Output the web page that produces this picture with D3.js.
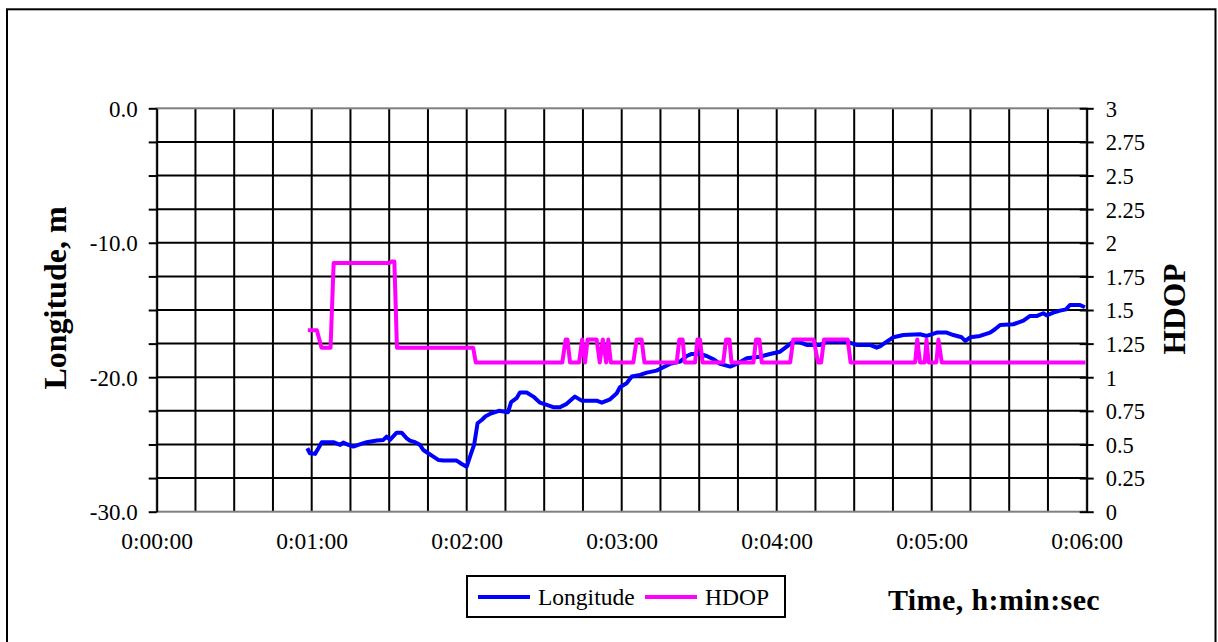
<!DOCTYPE html>
<html>
<head>
<meta charset="utf-8">
<script src="https://cdn.jsdelivr.net/npm/d3@7"></script>
<style>
  body { margin: 0; background: #fff; }
  text { font-family: "Liberation Serif", "Times New Roman", serif; fill: #000; }
</style>
</head>
<body>
<svg id="chart" width="1218" height="642"></svg>
<script>
// longitude track (time in seconds, value in m)
var lonTime = [58.3, 59.3, 61.3, 62.6, 63.9, 68.4, 71, 72.2, 74.2, 76.1, 78, 81.3, 85.2, 87.7, 89, 90.3, 92.9, 94.8, 96.8, 98,
  100, 101.9, 103.2, 105.1, 107.1, 109, 111, 116.1, 118.1, 120, 121.8, 122.9, 124.2, 125.8, 127.3, 129, 132.5, 136, 137.2, 139.3,
  140.6, 143.2, 145.8, 148.4, 151, 153.5, 156.1, 158.7, 161.9, 164.5, 170.3, 172.3, 175.5, 178.1, 179.3, 181.9, 183.9, 187.1, 189.7, 193.5,
  196.1, 198.7, 202.6, 205.2, 207.1, 210.3, 212.9, 215.5, 218.1, 222, 224.5, 228.4, 233.5, 237.4, 241.3, 243.9, 246.4, 249, 251.6, 256.8,
  259.4, 267.1, 271, 276.1, 278.7, 280, 282.6, 285.2, 289, 295.5, 298.1, 302, 305.8, 308.4, 311.6, 313, 314.9, 318.7, 322.6, 324.5,
  326.5, 331.6, 335.5, 338.1, 340.8, 343.2, 344.5, 347.1, 349.7, 352, 353.5, 357.4, 359.3];
var lonValue = [-25.28, -25.65, -25.7, -25.28, -24.83, -24.83, -25.03, -24.86, -25.03, -25.16, -25.03, -24.83, -24.71, -24.66, -24.42, -24.66, -24.12, -24.12, -24.54, -24.71,
  -24.83, -25.03, -25.41, -25.65, -25.9, -26.15, -26.2, -26.2, -26.45, -26.65, -25.6, -25.0, -23.42, -23.18, -22.9, -22.73, -22.5, -22.6, -21.85, -21.56,
  -21.14, -21.14, -21.44, -21.89, -22.06, -22.23, -22.23, -21.98, -21.44, -21.74, -21.74, -21.89, -21.64, -21.19, -20.74, -20.45, -19.95, -19.83, -19.66, -19.51,
  -19.26, -19.01, -18.84, -18.42, -18.27, -18.27, -18.42, -18.66, -19.01, -19.21, -19.01, -18.59, -18.47, -18.27, -18.1, -17.72, -17.35, -17.4, -17.6, -17.6,
  -17.35, -17.35, -17.6, -17.6, -17.8, -17.7, -17.35, -17.03, -16.86, -16.8, -16.93, -16.68, -16.68, -16.86, -17.03, -17.3, -17.03, -16.93, -16.68, -16.43,
  -16.11, -16.06, -15.79, -15.44, -15.44, -15.24, -15.4, -15.2, -15.05, -14.95, -14.63, -14.63, -14.8];

// HDOP track
var hdopTime = [58.5, 62, 63.8, 67.3, 68.5, 90, 91, 92, 93, 122.5, 123.5, 157, 158.3, 159, 160, 163.5, 164.7, 165.8, 166.8, 170.3,
  171.5, 172.7, 174, 174.8, 175.8, 184.5, 185.8, 187.7, 188.8, 201.3, 202.3, 203.6, 204.4, 208.4, 209.3, 210.3, 211.3, 219.3, 220.4, 221.7,
  222.5, 231, 232, 233.3, 234.2, 245.2, 246.4, 254.3, 256, 257.2, 258.3, 267.5, 268.6, 293.6, 294.4, 295.5, 297.3, 298, 298.8, 301.8,
  302.6, 303.9, 359.5];
var hdopValue = [1.35, 1.35, 1.22, 1.22, 1.85, 1.85, 1.86, 1.86, 1.22, 1.22, 1.11, 1.11, 1.28, 1.28, 1.11, 1.11, 1.28, 1.11, 1.28, 1.28,
  1.11, 1.28, 1.11, 1.28, 1.11, 1.11, 1.28, 1.28, 1.11, 1.11, 1.28, 1.28, 1.11, 1.11, 1.28, 1.28, 1.11, 1.11, 1.28, 1.28,
  1.11, 1.11, 1.28, 1.28, 1.11, 1.11, 1.28, 1.28, 1.11, 1.11, 1.28, 1.28, 1.11, 1.11, 1.28, 1.11, 1.11, 1.28, 1.11, 1.11,
  1.28, 1.11, 1.11];

// axes
var xTicks = [0, 60, 120, 180, 240, 300, 360];
var xGrid = d3.range(0, 361, 15);
var leftTicks = d3.range(-30, 0.1, 2.5);
var leftLabels = [-30, -20, -10, 0];
var rightTicks = d3.range(0, 3.01, 0.25);

var seriesNames = ["Longitude", "HDOP"];
var seriesColors = ["#0000ff", "#ff00ff"];

var svg = d3.select("#chart");
var margin = { top: 108.3, right: 131.3, bottom: 130.3, left: 156.7 };
var width = 1218, height = 642;

var x = d3.scaleLinear().domain([0, 360]).range([margin.left, width - margin.right]);
var y = d3.scaleLinear().domain([-30, 0]).range([height - margin.bottom, margin.top]);
var y2 = d3.scaleLinear().domain([0, 3]).range([height - margin.bottom, margin.top]);

var fmtTime = function (s) {
  var h = Math.floor(s / 3600), m = Math.floor(s / 60) % 60, sec = s % 60;
  return h + ":" + String(m).padStart(2, "0") + ":" + String(sec).padStart(2, "0");
};

// outer frame
svg.append("rect")
  .attr("x", 7).attr("y", 9.3)
  .attr("width", 1208.5).attr("height", 640)
  .attr("fill", "none").attr("stroke", "#000").attr("stroke-width", 2);

// grid
svg.append("g").selectAll("line")
  .data(leftTicks.filter(function (d) { return d > -30 && d < 0; }))
  .join("line")
  .attr("x1", x(0)).attr("x2", x(360))
  .attr("y1", function (d) { return y(d); }).attr("y2", function (d) { return y(d); })
  .attr("stroke", "#000").attr("stroke-width", 2);

svg.append("g").selectAll("line")
  .data(xGrid.filter(function (d) { return d > 0 && d < 360; }))
  .join("line")
  .attr("x1", function (d) { return x(d); }).attr("x2", function (d) { return x(d); })
  .attr("y1", y(0)).attr("y2", y(-30))
  .attr("stroke", "#000").attr("stroke-width", 2);

// plot frame top / bottom in grey
svg.append("rect")
  .attr("x", x(0)).attr("y", y(0))
  .attr("width", x(360) - x(0)).attr("height", y(-30) - y(0))
  .attr("fill", "none").attr("stroke", "#808080").attr("stroke-width", 2);

// left axis
var leftAxis = d3.axisLeft(y)
  .tickValues(leftTicks)
  .tickSize(8)
  .tickSizeOuter(0)
  .tickFormat(function (d) { return leftLabels.indexOf(d) >= 0 ? d.toFixed(1) : ""; });

var gl = svg.append("g")
  .attr("transform", "translate(" + x(0) + ",0)")
  .call(leftAxis);
gl.select(".domain").attr("stroke", "#000").attr("stroke-width", 2);
gl.selectAll(".tick line").attr("stroke", "#000").attr("stroke-width", 2);
gl.selectAll(".tick text")
  .attr("x", -19).attr("dy", "0.35em")
  .style("font-size", "23px").style("font-family", "Liberation Serif");

// right axis
var rightAxis = d3.axisRight(y2)
  .tickValues(rightTicks)
  .tickSize(7)
  .tickSizeOuter(0)
  .tickFormat(d3.format("~g"));

var gr = svg.append("g")
  .attr("transform", "translate(" + x(360) + ",0)")
  .call(rightAxis);
gr.select(".domain").attr("stroke", "#000").attr("stroke-width", 2);
gr.selectAll(".tick line").attr("x1", -7).attr("stroke", "#000").attr("stroke-width", 2);
gr.selectAll(".tick text")
  .attr("x", 19).attr("dy", "0.35em")
  .style("font-size", "22.5px").style("font-family", "Liberation Serif");

// bottom labels
var xAxis = d3.axisBottom(x)
  .tickValues(xTicks)
  .tickSize(0)
  .tickFormat(fmtTime);
var gx = svg.append("g")
  .attr("transform", "translate(0," + y(-30) + ")")
  .call(xAxis);
gx.select(".domain").remove();
gx.selectAll(".tick text")
  .attr("y", 29).attr("dy", "0.35em")
  .style("font-size", "23.5px").style("font-family", "Liberation Serif");

// series
var lonData = lonTime.map(function (t, i) { return [t, lonValue[i]]; });
var hdopData = hdopTime.map(function (t, i) { return [t, hdopValue[i]]; });

svg.append("path")
  .datum(lonData)
  .attr("fill", "none")
  .attr("stroke", seriesColors[0])
  .attr("stroke-width", 4)
  .attr("stroke-linejoin", "round")
  .attr("d", d3.line().x(function (d) { return x(d[0]); }).y(function (d) { return y(d[1]); }));

svg.append("path")
  .datum(hdopData)
  .attr("fill", "none")
  .attr("stroke", seriesColors[1])
  .attr("stroke-width", 4)
  .attr("stroke-linejoin", "round")
  .attr("d", d3.line().x(function (d) { return x(d[0]); }).y(function (d) { return y2(d[1]); }));

// axis titles
svg.append("text")
  .attr("transform", "translate(66,298) rotate(-90)")
  .attr("text-anchor", "middle")
  .style("font-size", "32px").style("font-weight", "bold")
  .text("Longitude, m");

svg.append("text")
  .attr("transform", "translate(1185,309) rotate(-90)")
  .attr("text-anchor", "middle")
  .style("font-size", "31.5px").style("font-weight", "bold")
  .text("HDOP");

svg.append("text")
  .attr("x", 888).attr("y", 610)
  .style("font-size", "30px").style("font-weight", "bold")
  .style("letter-spacing", "0.4px")
  .text("Time, h:min:sec");

// legend
var legend = svg.append("g");
legend.append("rect")
  .attr("x", 467).attr("y", 576)
  .attr("width", 318).attr("height", 41)
  .attr("fill", "#fff").attr("stroke", "#000").attr("stroke-width", 2);

var legendX = [478, 645];
seriesNames.forEach(function (name, i) {
  legend.append("line")
    .attr("x1", legendX[i]).attr("x2", legendX[i] + 52)
    .attr("y1", 597).attr("y2", 597)
    .attr("stroke", seriesColors[i]).attr("stroke-width", 4);
  legend.append("text")
    .attr("x", legendX[i] + 60).attr("y", 605)
    .style("font-size", "23.5px")
    .text(name);
});
</script>
</body>
</html>
